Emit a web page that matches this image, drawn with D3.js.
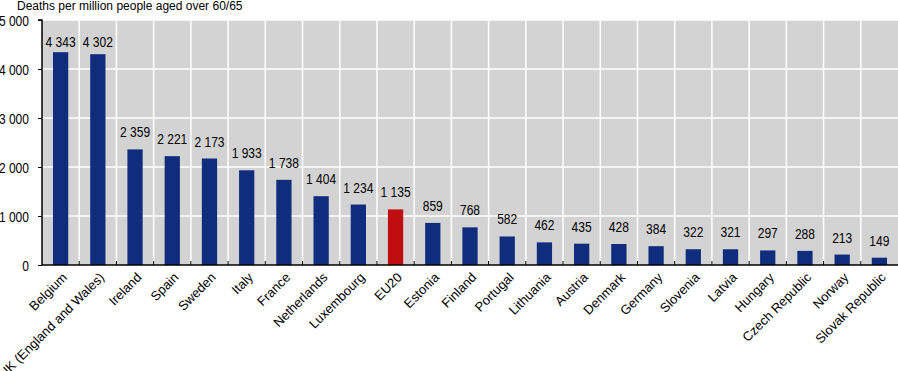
<!DOCTYPE html>
<html><head><meta charset="utf-8">
<script src="https://cdn.jsdelivr.net/npm/d3@7"></script>
<style>body{margin:0;background:#fff}svg{display:block}</style>
</head><body><svg id="c" width="898" height="371"></svg>
<script>
const categories = ["Belgium","UK (England and Wales)","Ireland","Spain","Sweden","Italy","France","Netherlands","Luxembourg","EU20","Estonia","Finland","Portugal","Lithuania","Austria","Denmark","Germany","Slovenia","Latvia","Hungary","Czech Republic","Norway","Slovak Republic"];
const values = [4343,4302,2359,2221,2173,1933,1738,1404,1234,1135,859,768,582,462,435,428,384,322,321,297,288,213,149];
const highlight = ["EU20"];
const yTicks = [0,1000,2000,3000,4000,5000];
const title = "Deaths per million people aged over 60/65";

const svg = d3.select("#c");
const L = 42, R = 898, T = 20, B = 265;
const fmt = v => d3.format(",")(v).replace(/,/g, " ");
const x = d3.scaleBand().domain(categories).range([L, R]).paddingInner(0).paddingOuter(0);
const y = d3.scaleLinear().domain([0, 5000]).range([B, T]);
const font = "Arial,'Liberation Sans',sans-serif";
const sx = 0.86;

svg.append("rect").attr("x", L).attr("y", T).attr("width", R - L).attr("height", B - T).attr("fill", "#d3d3d3");
svg.append("g").selectAll("line").data(yTicks.filter(d => d > 0)).join("line")
  .attr("x1", L).attr("x2", R).attr("y1", d => y(d)).attr("y2", d => y(d))
  .attr("stroke", "#fff").attr("stroke-width", 1.5);
svg.append("g").selectAll("line").data(categories.slice(1)).join("line")
  .attr("x1", d => x(d)).attr("x2", d => x(d)).attr("y1", T).attr("y2", B)
  .attr("stroke", "#fff").attr("stroke-width", 1.5);

const bw = x.bandwidth() * 0.41;
svg.append("g").selectAll("rect").data(categories).join("rect")
  .attr("x", d => x(d) + x.bandwidth() / 2 - bw / 2)
  .attr("width", bw)
  .attr("y", (d, i) => y(values[i]))
  .attr("height", (d, i) => B - y(values[i]))
  .attr("fill", d => highlight.includes(d) ? "#c00d0f" : "#102c7d");

svg.append("g").selectAll("text").data(categories).join("text")
  .attr("transform", (d, i) => `translate(${x(d) + x.bandwidth() / 2},${Math.max(y(values[i]) - 12, T + 27)}) scale(${sx},1)`)
  .attr("text-anchor", "middle")
  .attr("font-family", font).attr("font-size", 14).attr("fill", "#000")
  .text((d, i) => fmt(values[i]));

// y axis
const ya = d3.axisLeft(y).tickValues(yTicks).tickSize(4).tickFormat(fmt);
const gy = svg.append("g").attr("transform", `translate(${L},0)`).call(ya);
gy.select(".domain").attr("stroke", "#000").attr("stroke-width", 1.5).attr("d", `M-4,${T}H0V${B}`);
gy.selectAll(".tick text").attr("x", null).attr("dy", null)
  .attr("transform", `translate(-13,5) scale(${sx},1)`)
  .attr("font-family", font).attr("font-size", 14).attr("fill", "#000");

// x axis
const gx = svg.append("g").attr("transform", `translate(0,${B})`);
gx.append("line").attr("x1", L).attr("x2", R).attr("stroke", "#000").attr("stroke-width", 1.5);
gx.selectAll("line.t").data(categories.slice(1)).join("line").attr("class", "t")
  .attr("x1", d => x(d)).attr("x2", d => x(d)).attr("y1", 0).attr("y2", -4).attr("stroke", "#000");
gx.selectAll("text").data(categories).join("text")
  .attr("transform", d => `translate(${x(d) + x.bandwidth() / 2 + 4},${10}) rotate(-45)`)
  .attr("text-anchor", "end")
  .attr("dy", "0.35em")
  .attr("font-family", font).attr("font-size", 13).attr("fill", "#000")
  .text(d => d);

svg.append("text").attr("x", 17).attr("y", 9.5)
  .attr("font-family", font).attr("font-size", 12).attr("fill", "#000")
  .text(title);
</script></body></html>
